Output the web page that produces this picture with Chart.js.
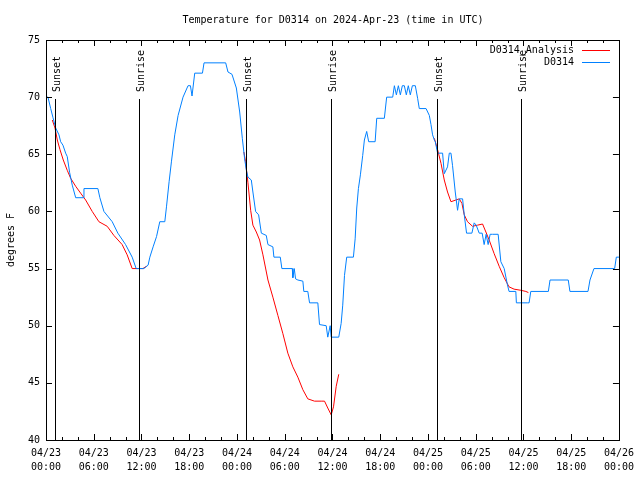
<!DOCTYPE html>
<html>
<head>
<meta charset="utf-8">
<script src="https://cdn.jsdelivr.net/npm/chart.js@4/dist/chart.umd.min.js"></script>
<style>
    body { margin: 0; background: #ffffff; }
    canvas { display: block; }
</style>
</head>
<body>
<canvas id="tempChart" width="640" height="480"></canvas>
<script>
// hours since 04/23 00:00 UTC
const obsHours = [
    0, 0.25, 0.59, 0.88, 1.22, 1.63, 1.84, 2.13, 2.47, 2.67, 2.97, 3.3, 3.73, 4.68, 4.77,
    6.52, 6.77, 7.28, 8.32, 9.03, 10.0, 10.83, 11.33, 12.29, 12.83, 13.05, 13.46, 13.89,
    14.3, 14.93, 15.14, 15.47, 15.77, 16.18, 16.6, 17.22, 17.85, 18.15, 18.35, 18.69,
    19.66, 19.86, 22.58, 22.87, 23.37, 23.92, 24.34, 24.67, 24.96, 25.18, 25.38, 25.8,
    26.0, 26.34, 26.72, 27.06, 27.68, 27.89, 28.51, 28.64, 29.44, 29.64, 30.95, 31.02,
    31.2, 31.36, 31.65, 32.28, 32.4, 32.9, 33.12, 34.16, 34.37, 35.21, 35.41, 35.71,
    35.84, 36.79, 37.09, 37.29, 37.51, 37.79, 38.63, 38.85, 39.05, 39.26, 39.51, 39.8,
    40.01, 40.3, 40.55, 41.36, 41.56, 42.52, 42.81, 43.57, 43.78, 44.03, 44.28, 44.53,
    44.78, 45.03, 45.28, 45.53, 45.78, 46.04, 46.41, 46.7, 46.91, 47.76, 48.17, 48.38,
    48.58, 48.8, 48.92, 49.21, 49.84, 50.05, 50.46, 50.68, 50.89, 51.09, 51.43, 51.72,
    51.93, 52.35, 52.56, 52.85, 53.52, 53.81, 54.06, 54.44, 54.81, 55.06, 55.31, 55.56,
    55.81, 56.11, 56.82, 57.16, 57.58, 57.98, 58.19, 59.04, 59.11, 60.49, 60.71, 60.92,
    63.13, 63.34, 65.63, 65.84, 68.11, 68.36, 68.86, 71.46, 71.67, 72
];
const obsTemps = [
    70, 70, 69, 68.2, 67.3, 66.7, 66.1, 65.8, 65.1, 64.8, 63.4, 62.3, 61.2, 61.2, 62,
    62, 61.2, 60, 59.1, 58.1, 57.1, 56, 55, 55, 55.3, 56, 56.9, 57.8,
    59.1, 59.1, 60.4, 62.6, 64.4, 66.7, 68.4, 70, 71, 71, 70.1, 72.1,
    72.1, 73, 73, 72.2, 72, 70.8, 68.7, 66.4, 64.6, 63.6, 63, 62.75,
    61.7, 60, 59.7, 58.1, 57.9, 57.1, 56.9, 56, 56, 55, 55, 54.2,
    55, 54.1, 54, 53.9, 53, 53, 52, 52, 50.1, 50, 49, 50,
    49, 49, 50.2, 51.8, 54.4, 56, 56, 57.6, 60.3, 62, 63.2, 64.9,
    66.25, 67, 66.1, 66.1, 68.15, 68.15, 70, 70, 71, 70.2, 71, 70.2,
    71, 71, 70.2, 71, 70.2, 71, 71, 69.9, 69, 69, 68.4, 67.6,
    66.7, 66.25, 66.1, 65.1, 65.1, 63.3, 63.9, 65.1, 65.1, 64, 61.7, 60.1,
    61.1, 61.1, 59.7, 58.1, 58.1, 59, 58.8, 58.1, 58.1, 57.1, 58, 57.1,
    58, 58, 58, 55.6, 55, 53.6, 53, 53, 52, 52, 52, 53,
    53, 54, 54, 53, 53, 54, 55, 55, 56, 56
];

const anaHours = [
    0.79, 1.13, 1.42, 1.76, 2.17, 2.67, 3.1, 3.73, 4.35, 4.98, 5.81, 6.65, 7.69, 8.53,
    9.57, 10.2, 10.83, 11.88, 12.17, 12.63, 13,
    24.87, 25.08, 25.38, 25.72, 26.0, 26.43, 26.84, 27.26, 27.89, 28.51, 29.14, 29.77,
    30.39, 31.02, 31.65, 32.28, 32.9, 33.74, 34.58, 35.0, 35.41, 35.84, 36.13, 36.47,
    36.79, 37,
    48.8, 49.21, 49.64, 50.05, 50.46, 50.89, 51.51, 51.93, 52.27, 52.56, 52.97, 53.6,
    54.23, 54.86, 55.28, 55.69, 56.32, 56.95, 57.58, 58.19, 58.82, 59.67, 60.3, 60.62
];
const anaTemps = [
    68, 67.3, 66.25, 65.4, 64.5, 63.6, 62.9, 62.2, 61.6, 61, 60, 59.1, 58.7, 57.9,
    57.1, 56.2, 55, 55, 55, 55.2, null,
    65.2, 64.35, 62.5, 60.1, 58.8, 58.2, 57.5, 56.2, 54, 52.5, 50.9, 49.3,
    47.6, 46.4, 45.5, 44.4, 43.6, 43.4, 43.4, 43.4, 42.8, 42.2, 42.9, 44.7,
    45.75, null,
    66.4, 65.4, 64.2, 62.75, 61.7, 60.85, 61, 61.1, 60.7, 59.7, 59.1, 58.7,
    58.8, 58.9, 58.2, 57.5, 56.3, 55.2, 54.2, 53.4, 53.2, 53.1, 53, 52.9
];

const sunHours = [1.17, 11.7, 25.18, 35.84, 49.17, 59.75];
const sunLabels = ["Sunset", "Sunrise", "Sunset", "Sunrise", "Sunset", "Sunrise"];

const tickDates = ["04/23", "04/23", "04/23", "04/23", "04/24", "04/24", "04/24",
    "04/24", "04/25", "04/25", "04/25", "04/25", "04/26"];
const tickTimes = ["00:00", "06:00", "12:00", "18:00", "00:00", "06:00", "12:00",
    "18:00", "00:00", "06:00", "12:00", "18:00", "00:00"];

const FONT = "DejaVu Sans Mono";

function toPoints(xs, ys) {
    return xs.map((x, i) => ({ x: x, y: ys[i] }));
}

const framePlugin = {
    id: "frame",
    afterDraw(chart) {
        const ctx = chart.ctx;
        const area = chart.chartArea;
        const xs = chart.scales.x;
        const ys = chart.scales.y;

        ctx.save();
        ctx.strokeStyle = "#000000";
        ctx.lineWidth = 1;

        // sunrise / sunset markers
        ctx.font = "10px " + FONT;
        ctx.fillStyle = "#000000";
        sunHours.forEach((h, i) => {
            const px = Math.round(xs.getPixelForValue(h)) + 0.5;
            ctx.beginPath();
            ctx.moveTo(px, 99);
            ctx.lineTo(px, area.bottom);
            ctx.stroke();

            ctx.save();
            ctx.translate(px + 1.5, 92);
            ctx.rotate(-Math.PI / 2);
            ctx.textAlign = "left";
            ctx.textBaseline = "middle";
            ctx.fillText(sunLabels[i], 0, 0);
            ctx.restore();
        });

        // border
        ctx.strokeRect(
            Math.round(area.left) + 0.5,
            Math.round(area.top) + 0.5,
            Math.round(area.right - area.left),
            Math.round(area.bottom - area.top)
        );

        // x ticks, major every 6h, minor every 2h
        for (let h = 0; h <= 72; h += 2) {
            const px = Math.round(xs.getPixelForValue(h)) + 0.5;
            const len = h % 6 === 0 ? 6 : 3;
            ctx.beginPath();
            ctx.moveTo(px, area.bottom);
            ctx.lineTo(px, area.bottom - len);
            ctx.moveTo(px, area.top);
            ctx.lineTo(px, area.top + len);
            ctx.stroke();
        }

        // y ticks
        for (let v = 40; v <= 75; v += 5) {
            const py = Math.round(ys.getPixelForValue(v)) + 0.5;
            ctx.beginPath();
            ctx.moveTo(area.left, py);
            ctx.lineTo(area.left + 6, py);
            ctx.moveTo(area.right, py);
            ctx.lineTo(area.right - 6, py);
            ctx.stroke();
        }

        // title
        ctx.textAlign = "center";
        ctx.textBaseline = "middle";
        ctx.fillText(
            "Temperature for D0314 on 2024-Apr-23 (time in UTC)",
            333,
            20
        );

        // y axis title
        ctx.save();
        ctx.translate(11, 240);
        ctx.rotate(-Math.PI / 2);
        ctx.fillText("degrees F", 0, 0);
        ctx.restore();

        // legend
        ctx.textAlign = "right";
        ctx.fillText("D0314_Analysis", 574, 50);
        ctx.fillText("D0314", 574, 62);

        ctx.strokeStyle = "#ff0000";
        ctx.beginPath();
        ctx.moveTo(582, 50.5);
        ctx.lineTo(610, 50.5);
        ctx.stroke();

        ctx.strokeStyle = "#0080ff";
        ctx.beginPath();
        ctx.moveTo(582, 62.5);
        ctx.lineTo(610, 62.5);
        ctx.stroke();

        ctx.restore();
    }
};

new Chart(document.getElementById("tempChart"), {
    type: "line",
    data: {
        datasets: [
            {
                label: "D0314",
                data: toPoints(obsHours, obsTemps),
                borderColor: "#0080ff",
                borderWidth: 1,
                pointRadius: 0,
                tension: 0
            },
            {
                label: "D0314_Analysis",
                data: toPoints(anaHours, anaTemps),
                borderColor: "#ff0000",
                borderWidth: 1,
                pointRadius: 0,
                tension: 0,
                spanGaps: false
            }
        ]
    },
    options: {
        responsive: false,
        animation: false,
        devicePixelRatio: 1,
        layout: {
            padding: { top: 40, right: 20, left: 0, bottom: 0 }
        },
        plugins: {
            legend: { display: false },
            title: { display: false },
            tooltip: { enabled: false }
        },
        scales: {
            x: {
                type: "linear",
                min: 0,
                max: 72,
                grid: { display: false, drawTicks: false },
                border: { display: false },
                afterFit(scale) {
                    scale.height = 40;
                },
                ticks: {
                    stepSize: 6,
                    maxRotation: 0,
                    autoSkip: false,
                    padding: 6,
                    color: "#000000",
                    font: { family: FONT, size: 10, lineHeight: 1.4 },
                    callback(value) {
                        const i = Math.round(value / 6);
                        return [tickDates[i], tickTimes[i]];
                    }
                }
            },
            y: {
                min: 40,
                max: 75,
                grid: { display: false, drawTicks: false },
                border: { display: false },
                afterFit(scale) {
                    scale.width = 46;
                },
                ticks: {
                    stepSize: 5,
                    padding: 6,
                    color: "#000000",
                    font: { family: FONT, size: 10 }
                }
            }
        }
    },
    plugins: [framePlugin]
});
</script>
</body>
</html>
